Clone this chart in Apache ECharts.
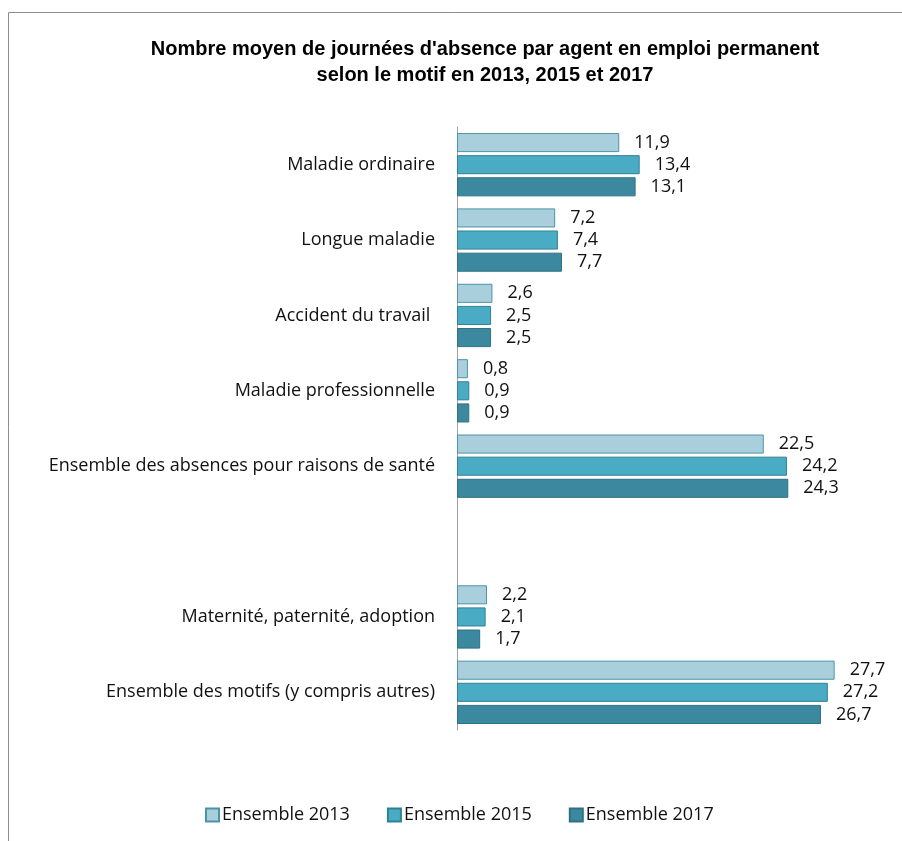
<!DOCTYPE html>
<html>
<head>
<meta charset="utf-8">
<script src="https://cdn.jsdelivr.net/npm/echarts@6/dist/echarts.min.js"></script>
<style>
html, body { margin: 0; padding: 0; background: #fff; }
#chart { width: 902px; height: 841px; }
</style>
</head>
<body>
<div id="chart"></div>
<script>
// categories, top to bottom (empty one makes the gap)
const categories = [
	'Maladie ordinaire',
	'Longue maladie',
	'Accident du travail ',
	'Maladie professionnelle',
	'Ensemble des absences pour raisons de santé',
	'',
	'Maternité, paternité, adoption',
	'Ensemble des motifs (y compris autres)'
];
const v2013 = [11.9, 7.2, 2.6, 0.8, 22.5, null, 2.2, 27.7];
const v2015 = [13.4, 7.4, 2.5, 0.9, 24.2, null, 2.1, 27.2];
const v2017 = [13.1, 7.7, 2.5, 0.9, 24.3, null, 1.7, 26.7];

const seriesNames = ['Ensemble 2013', 'Ensemble 2015', 'Ensemble 2017'];
const fills = ['#aacfdc', '#4aabc5', '#3c899f'];
const borders = ['#4b94a8', '#2f8197', '#2f7184'];

const font = '"Open Sans", "Noto Sans", sans-serif';

let $chart = echarts.init(document.getElementById('chart'));

function mkSeries(i, data) {
	return {
		name: seriesNames[i],
		type: 'bar',
		data: data,
		barGap: '16%',
		barCategoryGap: '16%',
		itemStyle: { color: fills[i], borderColor: borders[i], borderWidth: 1 },
		label: {
			show: true,
			position: 'right',
			distance: 15,
			color: '#111',
			fontSize: 18,
			fontFamily: font,
			formatter: p => String(p.value).replace('.', ',')
		}
	};
}

$chart.setOption({
	animation: false,
	backgroundColor: '#fff',
	title: {
		text: "Nombre moyen de journées d'absence par agent en emploi permanent\nselon le motif en 2013, 2015 et 2017",
		left: 480,
		textAlign: 'center',
		top: 31,
		textStyle: {
			fontFamily: '"Liberation Sans", Arial, sans-serif',
			fontWeight: 'bold',
			fontSize: 20,
			lineHeight: 26,
			color: '#000'
		}
	},
	graphic: [{
		type: 'rect',
		shape: { x: 8.5, y: 12.5, width: 1000, height: 1000 },
		style: { fill: 'none', stroke: '#8c8c8c', lineWidth: 1 },
		silent: true
	}],
	legend: {
		bottom: 12,
		left: 200,
		itemWidth: 13,
		itemHeight: 13,
		itemGap: 37,
		icon: 'rect',
		textStyle: { fontFamily: font, fontSize: 18, color: '#111', padding: [0, 0, 0, -2] },
		data: seriesNames
	},
	grid: { left: 457, right: 36, top: 127, bottom: 111 },
	xAxis: {
		type: 'value',
		min: 0,
		max: 30,
		show: false
	},
	yAxis: {
		type: 'category',
		inverse: true,
		data: categories,
		axisLine: { lineStyle: { color: '#a0a0a0', width: 1 } },
		axisTick: { show: false },
		axisLabel: { margin: 22, fontFamily: font, fontSize: 18, color: '#111' }
	},
	series: [mkSeries(0, v2013), mkSeries(1, v2015), mkSeries(2, v2017)]
});
</script>
</body>
</html>
